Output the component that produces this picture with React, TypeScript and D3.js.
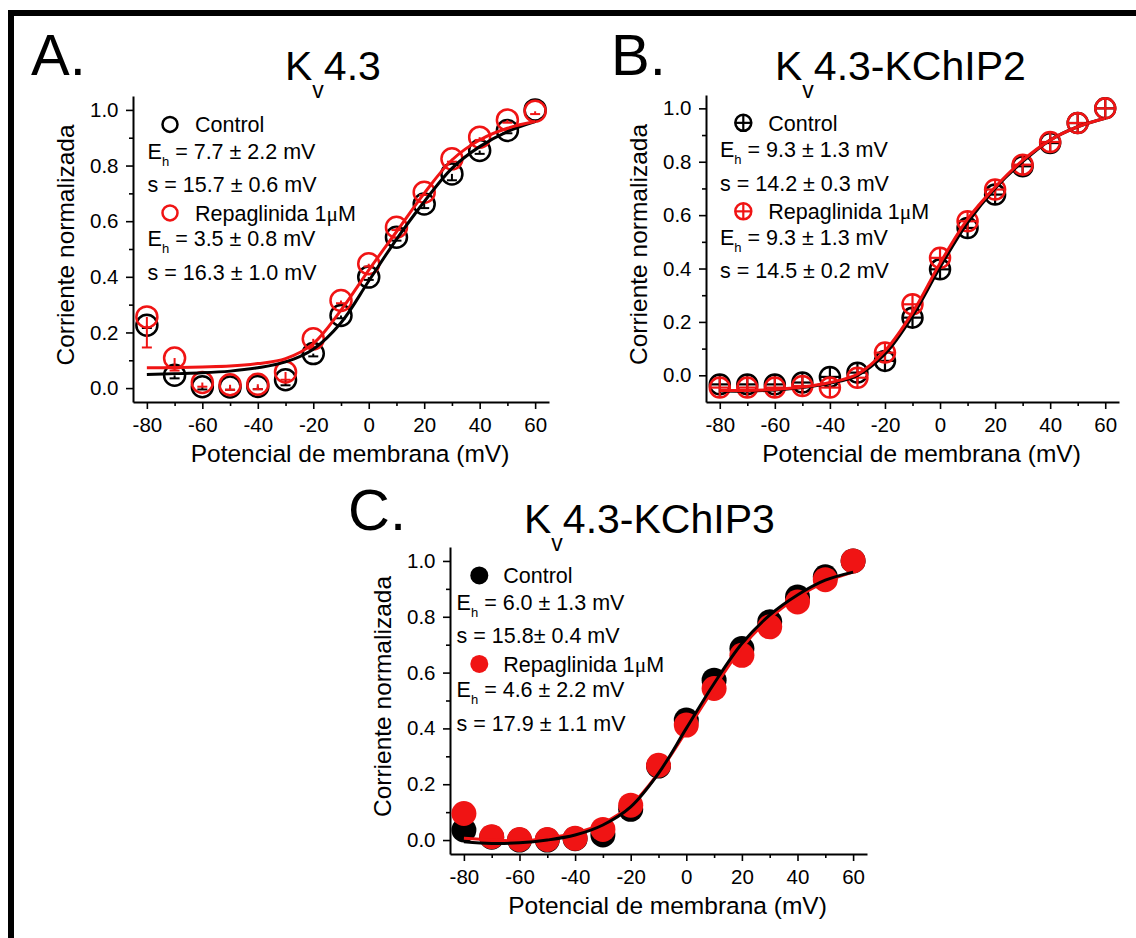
import React, { useEffect, useRef } from "react";
import * as d3 from "d3";

// membrane potentials (mV) and tick values
const voltages = [-80, -70, -60, -50, -40, -30, -20, -10, 0, 10, 20, 30, 40, 50, 60];
const xTicks = [-80, -60, -40, -20, 0, 20, 40, 60];
const xMinor = [-70, -50, -30, -10, 10, 30, 50];
const yTicks = [0, 0.2, 0.4, 0.6, 0.8, 1.0];
const yMinor = [0.1, 0.3, 0.5, 0.7, 0.9];

// A. Kv4.3
const aControl = [0.226, 0.046, 0.005, 0.004, 0.006, 0.03, 0.124, 0.261, 0.399, 0.542, 0.662, 0.77, 0.854, 0.926, 1.0];
const aControlErr = [0.01, 0.011, 0.01, 0.01, 0.01, 0.02, 0.01, 0.01, 0.01, 0.012, 0.015, 0.023, 0.012, 0.01, 0.0];
const aRepa = [0.256, 0.108, 0.02, 0.012, 0.014, 0.058, 0.177, 0.315, 0.447, 0.578, 0.704, 0.824, 0.902, 0.964, 0.995];
const aRepaErr = [0.11, 0.045, 0.015, 0.018, 0.018, 0.028, 0.03, 0.01, 0.01, 0.01, 0.01, 0.01, 0.01, 0.01, 0.01];
const aControlFit = [0.049, 0.052, 0.055, 0.061, 0.073, 0.094, 0.14, 0.235, 0.385, 0.535, 0.67, 0.79, 0.868, 0.922, 0.958];
const aRepaFit = [0.073, 0.074, 0.076, 0.079, 0.088, 0.106, 0.16, 0.28, 0.424, 0.562, 0.7, 0.82, 0.892, 0.934, 0.958];

// B. Kv4.3-KChIP2
const bControl = [-0.034, -0.034, -0.034, -0.027, -0.006, 0.01, 0.054, 0.216, 0.397, 0.552, 0.677, 0.783, 0.87, 0.945, 1.0];
const bRepa = [-0.046, -0.046, -0.046, -0.04, -0.046, -0.009, 0.085, 0.266, 0.44, 0.577, 0.696, 0.789, 0.874, 0.945, 1.0];
const bControlFit = [-0.059, -0.059, -0.055, -0.046, -0.03, 0.0, 0.08, 0.222, 0.405, 0.572, 0.7, 0.8, 0.881, 0.931, 0.963];
const bRepaFit = [-0.057, -0.057, -0.053, -0.044, -0.027, 0.004, 0.092, 0.235, 0.42, 0.585, 0.705, 0.805, 0.881, 0.931, 0.963];

// C. Kv4.3-KChIP3
const cControl = [0.036, 0.01, 0.0, 0.0, 0.005, 0.018, 0.11, 0.265, 0.43, 0.573, 0.686, 0.782, 0.871, 0.943, 1.0];
const cRepa = [0.095, 0.012, 0.002, 0.002, 0.006, 0.038, 0.125, 0.268, 0.412, 0.543, 0.662, 0.764, 0.853, 0.933, 1.0];
const cControlFit = [-0.006, -0.012, -0.01, 0.0, 0.018, 0.054, 0.119, 0.239, 0.4, 0.561, 0.704, 0.806, 0.878, 0.931, 0.96];
const cRepaFit = [0.006, 0.0, -0.002, 0.006, 0.025, 0.06, 0.124, 0.24, 0.39, 0.545, 0.69, 0.795, 0.87, 0.925, 0.96];

const RED = "#f01414";
const FONT = "'Liberation Sans', Arial, sans-serif";

const panels = [
  {
    letter: "A.", letterX: 31, letterY: 75,
    title: "4.3", titleX: 285, titleY: 80,
    left: 133, right: 549, top: 96, bottom: 402, yDomain: [-0.05, 1.05],
    marker: "open", r: 10.5, legendR: 7.5, symDx: 37, textDx: 62, eDx: 14.6,
    control: aControl, controlErr: aControlErr, repa: aRepa, repaErr: aRepaErr,
    controlFit: aControlFit, repaFit: aRepaFit, blackOnTop: false,
    stats: ["= 7.7 ± 2.2 mV", "s = 15.7 ± 0.6 mV", "= 3.5 ± 0.8 mV", "s = 16.3 ± 1.0 mV"],
  },
  {
    letter: "B.", letterX: 611, letterY: 75,
    title: "4.3-KChIP2", titleX: 775, titleY: 80,
    left: 706, right: 1119, top: 95, bottom: 402, yDomain: [-0.1, 1.05],
    marker: "cross", r: 10, legendR: 8, symDx: 37.3, textDx: 62.3, eDx: 14,
    control: bControl, controlErr: null, repa: bRepa, repaErr: null,
    controlFit: bControlFit, repaFit: bRepaFit, blackOnTop: false,
    stats: ["= 9.3 ± 1.3 mV", "s = 14.2 ± 0.3 mV", "= 9.3 ± 1.3 mV", "s = 14.5 ± 0.2 mV"],
  },
  {
    letter: "C.", letterX: 348, letterY: 530,
    title: "4.3-KChIP3", titleX: 524, titleY: 533,
    left: 450, right: 867, top: 547, bottom: 854, yDomain: [-0.05, 1.05],
    marker: "filled", r: 12.5, legendR: 9, symDx: 29.3, textDx: 53.3, eDx: 6.6,
    control: cControl, controlErr: null, repa: cRepa, repaErr: null,
    controlFit: cControlFit, repaFit: cRepaFit, blackOnTop: true,
    stats: ["= 6.0 ± 1.3 mV", "s = 15.8± 0.4 mV", "= 4.6 ± 2.2 mV", "s = 17.9 ± 1.1 mV"],
  },
];

function drawMarker(g, type, cx, cy, r, color) {
  if (type === "filled") {
    g.append("circle").attr("cx", cx).attr("cy", cy).attr("r", r).attr("fill", color);
    return;
  }
  g.append("circle").attr("cx", cx).attr("cy", cy).attr("r", r)
    .attr("fill", "none").attr("stroke", color).attr("stroke-width", 2.5);
  if (type === "cross") {
    g.append("line").attr("x1", cx - r).attr("x2", cx + r).attr("y1", cy).attr("y2", cy)
      .attr("stroke", color).attr("stroke-width", 2.2);
    g.append("line").attr("x1", cx).attr("x2", cx).attr("y1", cy - r).attr("y2", cy + r)
      .attr("stroke", color).attr("stroke-width", 2.2);
  }
}

function drawPanel(svg, p) {
  const x = d3.scaleLinear().domain([-85, 65]).range([p.left, p.right]);
  const y = d3.scaleLinear().domain(p.yDomain).range([p.bottom, p.top]);
  const g = svg.append("g");

  // panel letter and title
  g.append("text").attr("x", p.letterX).attr("y", p.letterY)
    .style("font-size", "58px").style("font-family", FONT).text(p.letter);
  const t = g.append("text").attr("x", p.titleX).attr("y", p.titleY)
    .style("font-size", "41px").style("font-family", FONT);
  t.append("tspan").text("K");
  t.append("tspan").attr("dy", 18).style("font-size", "23px").text("v");
  t.append("tspan").attr("dy", -18).text(p.title);

  // axes
  const xAx = g.append("g").attr("transform", `translate(0,${p.bottom})`)
    .call(d3.axisBottom(x).tickValues(xTicks).tickSize(7).tickSizeOuter(0).tickPadding(8)
      .tickFormat((d) => String(d)));
  g.append("g").attr("transform", `translate(0,${p.bottom})`)
    .call(d3.axisBottom(x).tickValues(xMinor).tickSize(4).tickSizeOuter(0).tickFormat(() => ""))
    .select(".domain").remove();
  const yAx = g.append("g").attr("transform", `translate(${p.left},0)`)
    .call(d3.axisLeft(y).tickValues(yTicks).tickSize(7).tickSizeOuter(0).tickPadding(7.5)
      .tickFormat(d3.format(".1f")));
  g.append("g").attr("transform", `translate(${p.left},0)`)
    .call(d3.axisLeft(y).tickValues(yMinor).tickSize(4).tickSizeOuter(0).tickFormat(() => ""))
    .select(".domain").remove();
  g.selectAll(".domain").attr("stroke-width", 2);
  g.selectAll(".tick line").attr("stroke-width", 1.6);
  [xAx, yAx].forEach((a) => a.selectAll("text").style("font-size", "20.5px").style("font-family", FONT).attr("fill", "#000"));

  // axis titles
  g.append("text").attr("x", (p.left + p.right) / 2 + 9).attr("y", p.bottom + 60)
    .attr("text-anchor", "middle").style("font-size", "24.5px").style("font-family", FONT)
    .text("Potencial de membrana (mV)");
  g.append("text")
    .attr("transform", `translate(${p.left - 59},${(p.top + p.bottom) / 2 - 4}) rotate(-90)`)
    .attr("text-anchor", "middle").style("font-size", "24.5px").style("font-family", FONT)
    .text("Corriente normalizada");

  // error bars (downward only)
  const errBars = (vals, errs, color) => {
    if (!errs) return;
    vals.forEach((v, i) => {
      if (!errs[i]) return;
      const cx = x(voltages[i]);
      g.append("line").attr("x1", cx).attr("x2", cx).attr("y1", y(v)).attr("y2", y(v - errs[i]))
        .attr("stroke", color).attr("stroke-width", 2);
      g.append("line").attr("x1", cx - 5).attr("x2", cx + 5).attr("y1", y(v - errs[i])).attr("y2", y(v - errs[i]))
        .attr("stroke", color).attr("stroke-width", 2);
    });
  };
  errBars(p.control, p.controlErr, "#000");
  voltages.forEach((v, i) => drawMarker(g, p.marker, x(v), y(p.control[i]), p.r, "#000"));
  errBars(p.repa, p.repaErr, RED);
  voltages.forEach((v, i) => drawMarker(g, p.marker, x(v), y(p.repa[i]), p.r, RED));

  // fitted curves
  const line = d3.line<number>()
    .x((d, i) => x(voltages[i]))
    .y((d) => y(d))
    .curve(d3.curveCatmullRom.alpha(0.5));
  const fits = p.blackOnTop
    ? [[p.repaFit, RED], [p.controlFit, "#000"]]
    : [[p.controlFit, "#000"], [p.repaFit, RED]];
  fits.forEach(([data, color]) => {
    g.append("path").datum(data).attr("fill", "none").attr("stroke", color)
      .attr("stroke-width", 3).attr("d", line);
  });

  // legend
  const y1 = y(1);
  const lx = p.left;
  const txt = (xx, yy) => g.append("text").attr("x", xx).attr("y", yy)
    .style("font-size", "21.5px").style("font-family", FONT);
  const eh = (yy, s) => {
    const e = txt(lx + p.eDx, yy);
    e.append("tspan").text("E");
    e.append("tspan").attr("dy", 7).style("font-size", "13px").text("h");
    e.append("tspan").attr("dy", -7).text(" " + s);
  };
  drawMarker(g, p.marker, lx + p.symDx, y1 + 14.5, p.legendR, "#000");
  txt(lx + p.textDx, y1 + 22.5).text("Control");
  eh(y1 + 49, p.stats[0]);
  txt(lx + p.eDx, y1 + 82.5).text(p.stats[1]);
  drawMarker(g, p.marker, lx + p.symDx, y1 + 103, p.legendR, RED);
  const rp = txt(lx + p.textDx, y1 + 111);
  rp.append("tspan").text("Repaglinida 1");
  rp.append("tspan").style("font-family", "'Liberation Serif', serif").text("μ");
  rp.append("tspan").text("M");
  eh(y1 + 136.5, p.stats[2]);
  txt(lx + p.eDx, y1 + 170).text(p.stats[3]);
}

const App = () => {
  const svgRef = useRef(null);

  useEffect(() => {
    const svg = d3.select(svgRef.current);
    svg.selectAll("*").remove();

    svg.append("rect").attr("width", 1136).attr("height", 938).attr("fill", "#fff");
    // frame (top and left edges)
    svg.append("rect").attr("x", 8).attr("y", 10).attr("width", 1128).attr("height", 6).attr("fill", "#000");
    svg.append("rect").attr("x", 8).attr("y", 10).attr("width", 6).attr("height", 928).attr("fill", "#000");

    panels.forEach((p) => drawPanel(svg, p));
  }, []);

  return (
    <svg ref={svgRef} width={1136} height={938}
      style={{ position: "absolute", left: 0, top: 0, display: "block" }}></svg>
  );
};

export default App;
